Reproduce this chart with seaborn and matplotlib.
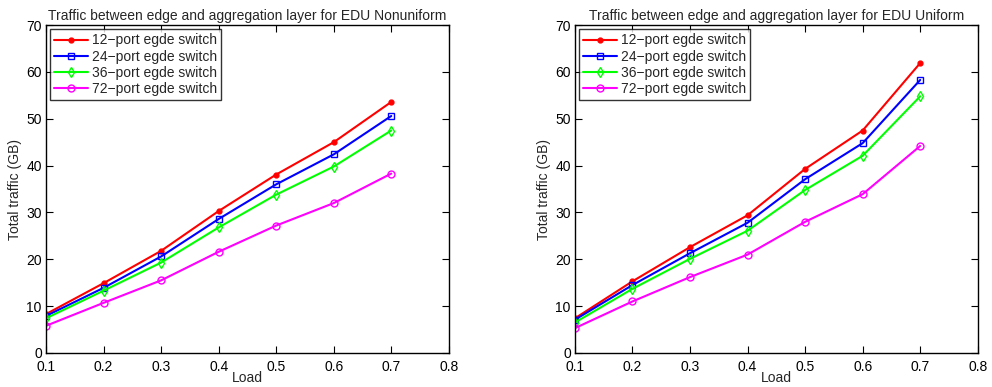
import matplotlib
matplotlib.use("Agg")
import matplotlib.pyplot as plt
import seaborn as sns
import pandas as pd

sns.set_theme(style="white")
plt.rcParams['font.family'] = ['Liberation Sans', 'DejaVu Sans']

load = [0.1, 0.2, 0.3, 0.4, 0.5, 0.6, 0.7]
series_names = ["12\u2212port egde switch", "24\u2212port egde switch",
                "36\u2212port egde switch", "72\u2212port egde switch"]

nonuni_12 = [8.3, 14.9, 21.8, 30.3, 38.1, 45.0, 53.6]
nonuni_24 = [7.9, 13.9, 20.6, 28.6, 36.0, 42.4, 50.6]
nonuni_36 = [7.4, 13.3, 19.3, 26.8, 33.8, 39.8, 47.5]
nonuni_72 = [5.8, 10.7, 15.5, 21.6, 27.2, 32.0, 38.3]

uni_12 = [7.4, 15.3, 22.6, 29.4, 39.3, 47.5, 61.9]
uni_24 = [7.1, 14.5, 21.3, 27.8, 37.1, 44.8, 58.3]
uni_36 = [6.5, 13.7, 20.1, 26.1, 34.8, 42.1, 54.8]
uni_72 = [5.3, 11.0, 16.2, 21.0, 28.0, 33.9, 44.2]

titles = ["Traffic between edge and aggregation layer for EDU Nonuniform",
          "Traffic between edge and aggregation layer for EDU Uniform"]
x_ticks = [0.1, 0.2, 0.3, 0.4, 0.5, 0.6, 0.7, 0.8]
y_ticks = [0, 10, 20, 30, 40, 50, 60, 70]

colors = ["#ff0000", "#0000ff", "#00ff00", "#ff00ff"]
markers = [".", "s", "d", "o"]
msizes = [7, 4.5, 5, 5]
mfaces = ["#ff0000", "none", "none", "none"]

fig = plt.figure(figsize=(9.92, 3.87), dpi=100)
ax1 = fig.add_axes([0.0464, 0.088, 0.406, 0.847])
ax2 = fig.add_axes([0.5796, 0.088, 0.406, 0.847])

datasets = [[nonuni_12, nonuni_24, nonuni_36, nonuni_72],
            [uni_12, uni_24, uni_36, uni_72]]

for ax, data, title in zip([ax1, ax2], datasets, titles):
    for vals, name, c, m, ms, mf in zip(data, series_names, colors, markers, msizes, mfaces):
        df = pd.DataFrame({"Load": load, "Traffic": vals})
        sns.lineplot(data=df, x="Load", y="Traffic", ax=ax, color=c, marker=m,
                     markersize=ms, markerfacecolor=mf, markeredgecolor=c,
                     markeredgewidth=1.0, linewidth=1.5, label=name)
    ax.set_xlim(0.1, 0.8)
    ax.set_ylim(0, 70)
    ax.set_xticks(x_ticks)
    ax.set_xticklabels([f"{t:g}" for t in x_ticks])
    ax.set_yticks(y_ticks)
    ax.set_xlabel("Load", fontsize=10, labelpad=-2)
    ax.set_ylabel("Total traffic (GB)", fontsize=10, labelpad=3)
    ax.set_title(title, fontsize=10, pad=4)
    ax.tick_params(direction="in", length=5, width=0.8, labelsize=10,
                   top=True, right=True, bottom=True, left=True,
                   colors="black")
    ax.tick_params(axis="x", pad=5)
    ax.tick_params(axis="y", pad=3)
    for s in ax.spines.values():
        s.set_color("black")
        s.set_linewidth(1.0)
    leg = ax.legend(loc="upper left", fontsize=10, frameon=True, fancybox=False,
                    borderaxespad=0.3, handlelength=2.4, labelspacing=0.15,
                    borderpad=0.3, handletextpad=0.3)
    leg.get_frame().set_edgecolor("black")
    leg.get_frame().set_linewidth(1.0)

fig.savefig("out.png", dpi=100)
